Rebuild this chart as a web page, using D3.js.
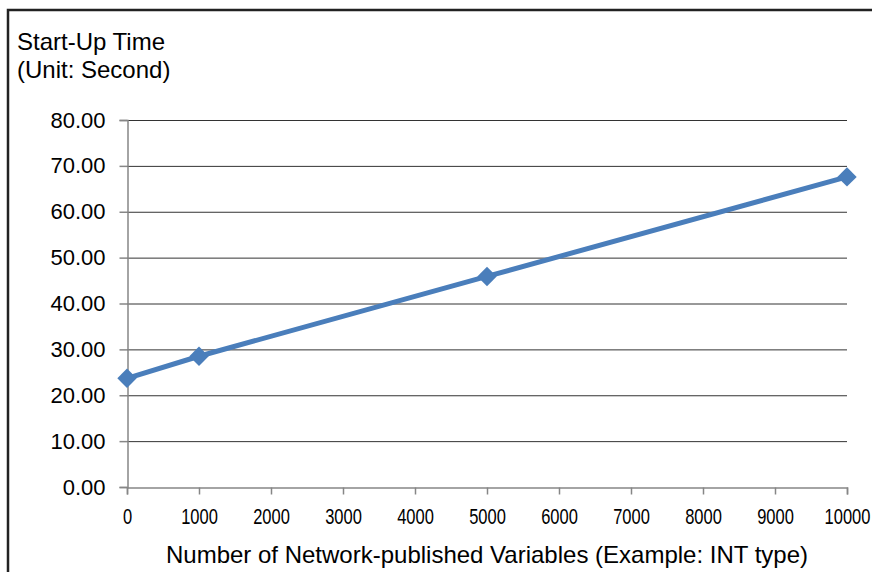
<!DOCTYPE html>
<meta charset="utf-8">
<style>
  body { margin: 0; background: #fff; }
  text { font-family: "Liberation Sans", Arial, sans-serif; fill: #000; }
</style>
<body>
<svg width="872" height="572"></svg>
</body>
<script src="https://cdnjs.cloudflare.com/ajax/libs/d3/7.8.5/d3.min.js"></script>
<script>

var variables = [0, 1000, 5000, 10000];
var startUp = [23.7, 28.5, 45.9, 67.6];
var yTicks = [0, 10, 20, 30, 40, 50, 60, 70, 80];
var xTicks = [0, 1000, 2000, 3000, 4000, 5000, 6000, 7000, 8000, 9000, 10000];

var svg = d3.select("svg");

// chart frame, clipped on right and bottom like the original
svg.append("rect")
    .attr("x", 8).attr("y", 10)
    .attr("width", 900).attr("height", 600)
    .attr("fill", "none")
    .attr("stroke", "#222")
    .attr("stroke-width", 2.5);

var x = d3.scaleLinear().domain([0, 10000]).range([127, 847]);
var y = d3.scaleLinear().domain([0, 80]).range([487, 120]);

// gridlines
svg.append("g")
    .selectAll("line")
    .data(yTicks.filter(d => d > 0))
    .join("line")
    .attr("x1", x(0)).attr("x2", x(10000))
    .attr("y1", d => y(d) + 0.5).attr("y2", d => y(d) + 0.5)
    .attr("stroke", "#333")
    .attr("stroke-width", 1);

// y axis
var yAxis = svg.append("g")
    .attr("transform", "translate(" + (x(0) + 0.5) + ",0)")
    .call(d3.axisLeft(y).tickValues(yTicks).tickFormat(d3.format(".2f")).tickSize(8).tickPadding(14));
yAxis.select(".domain").attr("stroke", "#868686").attr("stroke-width", 1.5);
yAxis.selectAll(".tick line").attr("stroke", "#868686").attr("stroke-width", 1.5);
yAxis.selectAll(".tick text")
    .attr("font-size", 22)
    .attr("font-family", "Liberation Sans, Arial, sans-serif")
    .attr("fill", "#000");

// x axis (narrow labels: squeeze regular font horizontally)
var xAxis = svg.append("g")
    .attr("transform", "translate(0," + (y(0) + 0.5) + ")")
    .call(d3.axisBottom(x).tickValues(xTicks).tickFormat(d3.format("d")).tickSize(7));
xAxis.select(".domain").attr("stroke", "#868686").attr("stroke-width", 1.5);
xAxis.selectAll(".tick line").attr("stroke", "#868686").attr("stroke-width", 1.5);
xAxis.selectAll(".tick text")
    .attr("font-size", 22)
    .attr("font-family", "Liberation Sans, Arial, sans-serif")
    .attr("fill", "#000")
    .attr("y", 0).attr("dy", null)
    .attr("transform", "translate(0,36) scale(0.75,1)");

// series
var pts = variables.map((v, i) => [v, startUp[i]]);
svg.append("path")
    .datum(pts)
    .attr("fill", "none")
    .attr("stroke", "#4A7EBB")
    .attr("stroke-width", 5)
    .attr("d", d3.line().x(d => x(d[0])).y(d => y(d[1])));

svg.append("g")
    .selectAll("path")
    .data(pts)
    .join("path")
    .attr("transform", d => "translate(" + x(d[0]) + "," + y(d[1]) + ")")
    .attr("d", d3.symbol().type(d3.symbolDiamond2).size(240))
    .attr("fill", "#4A7EBB");

// titles
svg.append("text").attr("x", 17).attr("y", 50).attr("font-size", 24).text("Start-Up Time");
svg.append("text").attr("x", 17).attr("y", 78).attr("font-size", 24).text("(Unit: Second)");
svg.append("text").attr("x", 487).attr("y", 563).attr("font-size", 24)
    .attr("text-anchor", "middle")
    .text("Number of Network-published Variables (Example: INT type)");

</script>
